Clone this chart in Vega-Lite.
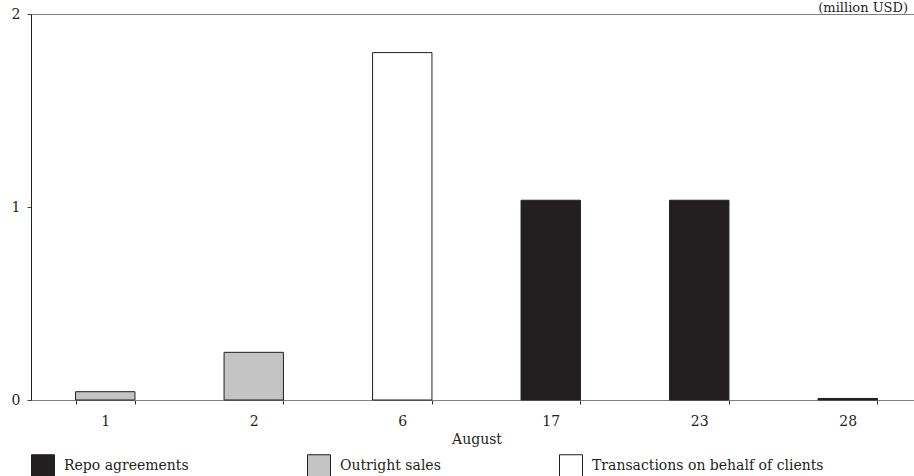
{
  "$schema": "https://vega.github.io/schema/vega-lite/v6.json",
  "autosize": {"type": "none"},
  "padding": {"left": 31, "top": 14, "right": 0, "bottom": 76},
  "width": 891,
  "height": 386,
  "background": "white",
  "config": {
    "font": "DejaVu Serif",
    "view": {"stroke": "#808080", "strokeWidth": 1}
  },
  "title": {
    "text": "(million USD)",
    "anchor": "end",
    "frame": "group",
    "fontSize": 13,
    "fontWeight": "normal",
    "color": "#231f20",
    "baseline": "alphabetic",
    "offset": 0,
    "dy": 18,
    "dx": -14
  },
  "data": {
    "values": [
      {"day": "1", "type": "Outright sales", "value": 0.043},
      {"day": "2", "type": "Outright sales", "value": 0.247},
      {"day": "6", "type": "Transactions on behalf of clients", "value": 1.8},
      {"day": "17", "type": "Repo agreements", "value": 1.035},
      {"day": "23", "type": "Repo agreements", "value": 1.035},
      {"day": "28", "type": "Repo agreements", "value": 0.008}
    ]
  },
  "mark": {"type": "bar", "stroke": "#231f20", "strokeWidth": 1},
  "encoding": {
    "x": {
      "field": "day",
      "type": "ordinal",
      "sort": null,
      "scale": {"paddingInner": 0.6, "paddingOuter": 0.3},
      "axis": {
        "title": "August",
        "titleFontSize": 14,
        "titleFontWeight": "normal",
        "titleColor": "#231f20",
        "titlePadding": 4,
        "labelAngle": 0,
        "labelFontSize": 14,
        "labelColor": "#231f20",
        "labelPadding": 10,
        "tickBand": "extent",
        "tickSize": 4,
        "tickColor": "#333333",
        "domainColor": "#808080"
      }
    },
    "y": {
      "field": "value",
      "type": "quantitative",
      "scale": {"domain": [0, 2], "nice": false},
      "axis": {
        "title": null,
        "values": [0, 1, 2],
        "format": ".0f",
        "labelOverlap": false,
        "grid": false,
        "labelFontSize": 14,
        "labelColor": "#231f20",
        "labelPadding": 7,
        "tickSize": 4,
        "tickColor": "#444444",
        "domainColor": "#231f20"
      }
    },
    "color": {
      "field": "type",
      "type": "nominal",
      "scale": {
        "domain": ["Repo agreements", "Outright sales", "Transactions on behalf of clients"],
        "range": ["#231f20", "#c4c4c4", "#ffffff"]
      },
      "legend": {
        "title": null,
        "orient": "bottom",
        "direction": "horizontal",
        "symbolType": "square",
        "symbolSize": 529,
        "symbolStrokeColor": "#231f20",
        "symbolStrokeWidth": 1,
        "symbolOpacity": 1,
        "labelFontSize": 14,
        "labelColor": "#231f20",
        "labelOffset": 9,
        "labelLimit": 400,
        "columnPadding": 116,
        "offset": 8
      }
    },
    "opacity": {"value": 1}
  }
}
